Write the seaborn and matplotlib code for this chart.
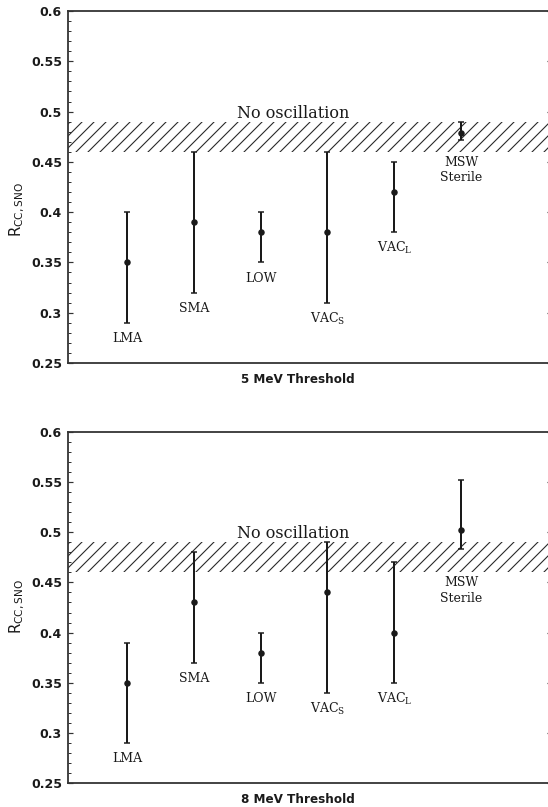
import numpy as np
import matplotlib
matplotlib.use("Agg")
import matplotlib.pyplot as plt
import seaborn as sns
from matplotlib.ticker import MultipleLocator

sns.set_theme(style="white")
plt.rcParams['font.family'] = ['DejaVu Sans']
plt.rcParams['mathtext.default'] = 'regular'
plt.rcParams['hatch.linewidth'] = 1.1
plt.rcParams['hatch.color'] = '#2a2a2a'

# ---- data ----
categories = ["LMA", "SMA", "LOW", "VAC_S", "VAC_L", "MSW Sterile"]
cat_labels = ["LMA", "SMA", "LOW", r"VAC$_{S}$", r"VAC$_{L}$", "MSW\nSterile"]

r5_center = [0.35, 0.39, 0.38, 0.38, 0.42, 0.479]
r5_low    = [0.29, 0.32, 0.35, 0.31, 0.38, 0.472]
r5_high   = [0.40, 0.46, 0.40, 0.46, 0.45, 0.490]

r8_center = [0.35, 0.43, 0.38, 0.44, 0.40, 0.502]
r8_low    = [0.29, 0.37, 0.35, 0.34, 0.35, 0.483]
r8_high   = [0.39, 0.48, 0.40, 0.49, 0.47, 0.552]

no_osc_band = [0.46, 0.49]
thresholds = ["5 MeV Threshold", "8 MeV Threshold"]
yticks = [0.25, 0.3, 0.35, 0.4, 0.45, 0.5, 0.55, 0.6]
ytick_labels = ["0.25", "0.3", "0.35", "0.4", "0.45", "0.5", "0.55", "0.6"]

W, H = 548, 807
fig = plt.figure(figsize=(W / 72, H / 72), dpi=72)

panels = [
    (r5_center, r5_low, r5_high, thresholds[0], [68 / W, 1 - 363 / H, 484 / W, 352 / H], 0.435),
    (r8_center, r8_low, r8_high, thresholds[1], [68 / W, 1 - 783 / H, 484 / W, 351 / H], 0.504),
]

ink = '#1a1a1a'
for center, low, high, title, rect, ylab_y in panels:
    ax = fig.add_axes(rect)
    x = np.arange(len(categories))
    c = np.array(center)
    lo = np.array(low)
    hi = np.array(high)

    # no-oscillation band
    ax.axhspan(no_osc_band[0], no_osc_band[1], facecolor='none', edgecolor='#2a2a2a',
               hatch='//', linewidth=0, zorder=1)
    ax.text(2.48, 0.4985, "No oscillation", ha='center', va='center',
            family='DejaVu Serif', fontsize=16, color=ink)

    ax.errorbar(x, c, yerr=[c - lo, hi - c], fmt='none', ecolor=ink,
                elinewidth=2, capsize=3, capthick=1.5, zorder=3)
    sns.scatterplot(x=x, y=c, ax=ax, color=ink, s=42, edgecolor=ink,
                    linewidth=0, zorder=4, legend=False)

    for xi, l, lab in zip(x, lo, cat_labels):
        if "Sterile" in lab:
            ax.text(xi, 0.442, lab, ha='center', va='center', family='DejaVu Serif',
                    fontsize=12.5, color=ink, linespacing=1.25)
        else:
            ax.text(xi, l - 0.016, lab, ha='center', va='center', family='DejaVu Serif',
                    fontsize=12.5, color=ink)

    ax.set_xlim(-0.883, 6.36)
    ax.set_ylim(0.25, 0.6)
    ax.set_xticks([])
    ax.set_yticks(yticks)
    ax.set_yticklabels(ytick_labels, fontsize=12.5, fontweight='bold', color=ink)
    ax.yaxis.set_minor_locator(MultipleLocator(0.01))
    ax.tick_params(axis='y', which='major', direction='in', left=True, right=True,
                   color='#333333', length=5, width=1.2, pad=6)
    ax.tick_params(axis='y', which='minor', direction='in', left=True, right=False,
                   color='#333333', length=3, width=1.0)
    for s in ax.spines.values():
        s.set_color('#333333')
        s.set_linewidth(1.8)
        s.set_visible(True)

    ax.set_xlabel(title, fontsize=12, fontweight='bold', color=ink)
    ax.xaxis.set_label_coords(0.475, -0.028, transform=ax.transAxes)
    ax.xaxis.label.set_va('top')
    ax.set_ylabel("")
    ax.text(-0.104, ylab_y, r"R$_{CC,SNO}$", transform=ax.transAxes, rotation=90,
            ha='center', va='center', fontsize=15, color=ink)

fig.savefig("out.png", dpi=72)
